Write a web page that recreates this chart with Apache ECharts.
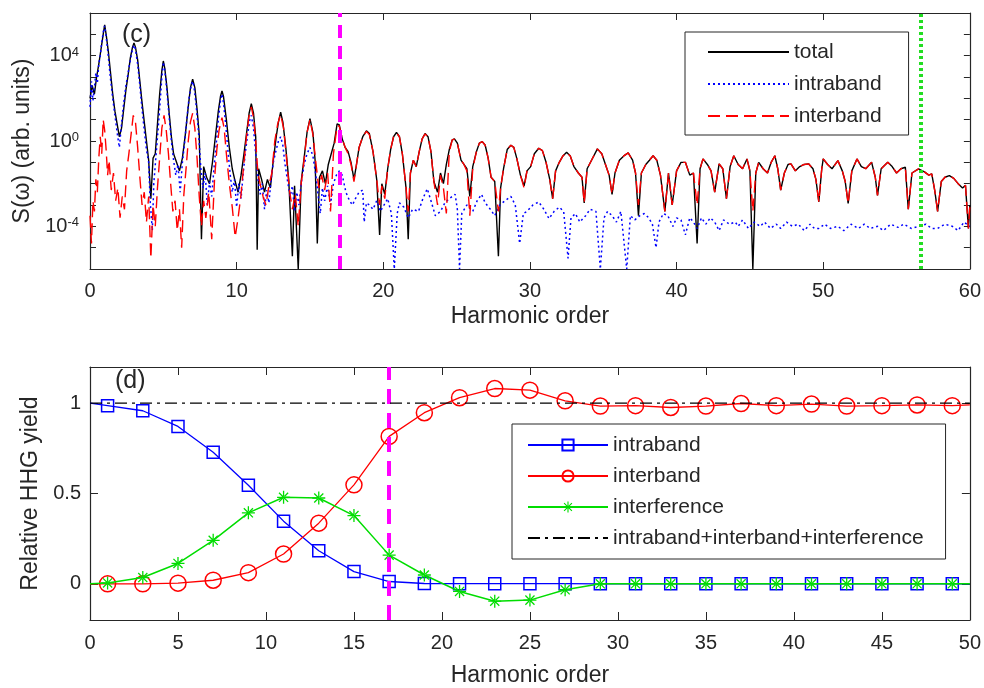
<!DOCTYPE html>
<html>
<head>
<meta charset="utf-8">
<script src="https://cdn.jsdelivr.net/npm/echarts@6/dist/echarts.min.js"></script>
<style>html,body{margin:0;padding:0;background:#fff;}#c{width:984px;height:688px;}</style>
</head>
<body>
<div id="c"></div>
<script>
// ---------- Panel (c): spectrum, values are log10 S(omega) ----------
const topTicksX = [0, 10, 20, 30, 40, 50, 60];
const topLabelExps = [-4, 0, 4];

const totalSpec = [
[0.0,2.0],[0.15,2.6],[0.3,2.2],[0.45,3.0],[0.6,3.6],[0.75,4.3],[0.9,5.0],[1.0,5.45],[1.1,5.0],[1.25,4.2],[1.4,3.2],[1.55,2.2],[1.7,1.4],[1.85,0.8],[2.0,0.2],[2.15,0.6],[2.3,1.5],[2.45,2.4],[2.6,3.1],[2.75,3.9],[2.9,4.4],[3.0,4.6],[3.1,4.4],[3.25,3.8],[3.4,2.8],[3.55,1.8],[3.7,0.9],[3.85,0.0],[4.0,-0.9],[4.15,-2.7],[4.3,-0.8],[4.45,-0.6],[4.6,0.8],[4.75,2.2],[4.9,3.3],[5.0,3.75],[5.1,3.4],[5.25,2.5],[5.4,1.3],[5.55,0.2],[5.7,-0.6],[5.9,-1.0],[6.1,-1.4],[6.3,-0.8],[6.5,0.3],[6.7,1.6],[6.85,2.5],[7.0,2.9],[7.15,2.5],[7.3,1.5],[7.45,0.3],[7.6,-4.6],[7.75,-1.2],[7.95,-1.7],[8.15,-2.0],[8.35,-1.0],[8.55,0.2],[8.75,1.4],[8.9,2.1],[9.0,2.35],[9.1,2.1],[9.3,1.0],[9.5,-0.3],[9.7,-1.3],[9.9,-1.9],[10.1,-2.4],[10.3,-1.6],[10.5,-0.6],[10.7,0.5],[10.85,1.3],[11.0,1.75],[11.15,1.3],[11.3,0.2],[11.4,-5.1],[11.5,-1.3],[11.7,-1.8],[11.9,-2.4],[12.1,-1.8],[12.3,-2.2],[12.5,-0.9],[12.7,0.2],[12.85,0.9],[13.0,1.35],[13.15,0.9],[13.35,-0.3],[13.55,-1.8],[13.8,-5.4],[13.95,-2.1],[14.2,-6.0],[14.4,-1.9],[14.6,-0.8],[14.8,0.4],[15.0,1.05],[15.2,0.4],[15.35,-0.9],[15.5,-4.8],[15.65,-1.7],[15.85,-1.4],[16.05,-2.0],[16.25,-1.1],[16.45,-0.6],[16.65,-0.1],[16.85,0.8],[17.0,0.75],[17.2,0.1],[17.4,-0.3],[17.6,-0.5],[17.8,-1.0],[18.0,-1.8],[18.15,-1.2],[18.35,-0.3],[18.6,0.2],[18.85,0.48],[19.05,0.35],[19.3,-0.5],[19.55,-1.8],[19.75,-4.4],[19.9,-2.0],[20.1,-2.5],[20.3,-1.3],[20.5,-0.4],[20.7,0.2],[20.9,0.4],[21.1,0.2],[21.3,-0.6],[21.55,-2.2],[21.7,-4.6],[21.85,-1.5],[22.05,-0.9],[22.25,-1.2],[22.45,-0.5],[22.65,0.1],[22.85,0.35],[23.05,0.2],[23.25,-0.5],[23.45,-1.9],[23.7,-2.4],[23.9,-1.5],[24.1,-2.0],[24.3,-1.1],[24.5,-0.4],[24.7,0.05],[24.85,0.1],[25.05,-0.1],[25.3,-0.9],[25.5,-1.1],[25.7,-1.3],[25.9,-2.6],[26.1,-1.2],[26.35,-0.5],[26.55,-0.1],[26.75,-0.03],[26.95,-0.2],[27.15,-0.8],[27.35,-1.7],[27.6,-1.9],[27.85,-5.4],[28.0,-2.2],[28.2,-1.3],[28.45,-0.4],[28.7,-0.2],[28.9,-0.3],[29.1,-0.8],[29.35,-1.6],[29.6,-2.1],[29.8,-1.4],[30.05,-1.2],[30.3,-0.6],[30.6,-0.34],[30.85,-0.45],[31.1,-1.0],[31.35,-1.8],[31.55,-2.7],[31.75,-1.4],[32.0,-1.0],[32.25,-0.7],[32.5,-0.53],[32.75,-0.7],[33.0,-1.2],[33.3,-1.5],[33.55,-1.7],[33.7,-2.9],[33.9,-1.3],[34.2,-0.9],[34.6,-0.37],[34.9,-0.6],[35.15,-1.1],[35.4,-1.6],[35.6,-2.5],[35.8,-1.5],[36.1,-0.9],[36.4,-0.7],[36.7,-0.56],[37.0,-0.9],[37.2,-1.5],[37.4,-3.5],[37.6,-1.5],[37.9,-1.1],[38.15,-0.9],[38.4,-0.69],[38.65,-0.9],[38.9,-1.6],[39.2,-3.3],[39.45,-1.5],[39.7,-3.0],[40.0,-1.4],[40.3,-1.0],[40.6,-1.0],[40.9,-1.6],[41.15,-1.5],[41.4,-4.8],[41.6,-1.3],[41.8,-0.84],[42.1,-1.1],[42.35,-1.4],[42.6,-2.4],[42.9,-1.07],[43.15,-1.3],[43.4,-2.7],[43.65,-1.2],[43.9,-0.69],[44.2,-1.1],[44.5,-1.3],[44.8,-0.84],[45.0,-1.4],[45.2,-6.0],[45.4,-1.5],[45.6,-1.0],[45.9,-1.3],[46.2,-1.5],[46.45,-1.0],[46.7,-0.69],[46.9,-1.3],[47.1,-2.3],[47.35,-1.5],[47.6,-1.1],[47.8,-1.07],[48.1,-1.4],[48.4,-1.2],[48.7,-1.1],[49.0,-1.07],[49.3,-1.3],[49.5,-1.8],[49.7,-2.85],[49.9,-1.3],[50.0,-0.84],[50.3,-1.1],[50.6,-1.3],[51.0,-0.92],[51.3,-1.4],[51.5,-1.9],[51.7,-2.93],[51.95,-1.4],[52.3,-0.84],[52.6,-1.2],[52.9,-1.3],[53.3,-1.0],[53.55,-1.7],[53.7,-2.55],[53.95,-1.3],[54.4,-1.0],[54.7,-1.2],[55.0,-1.5],[55.3,-1.3],[55.6,-1.23],[55.8,-3.2],[56.05,-1.5],[56.5,-1.31],[56.9,-1.45],[57.2,-1.6],[57.4,-1.54],[57.6,-2.3],[57.8,-3.3],[58.05,-1.9],[58.3,-1.7],[58.6,-1.62],[58.9,-1.75],[59.2,-2.0],[59.5,-2.2],[59.7,-2.08],[59.9,-4.1],[60.0,-3.0]
];

const intraSpec = [
[0.0,1.6],[0.1,2.8],[0.2,1.9],[0.3,2.5],[0.4,3.2],[0.5,2.7],[0.6,3.6],[0.7,4.0],[0.8,4.6],[0.9,5.1],[1.0,5.4],[1.1,4.9],[1.2,4.3],[1.3,3.6],[1.4,2.9],[1.55,2.0],[1.7,1.2],[1.85,0.4],[2.0,-0.3],[2.15,0.8],[2.3,1.8],[2.45,2.6],[2.6,3.2],[2.75,3.8],[2.9,4.3],[3.0,4.5],[3.1,4.3],[3.25,3.6],[3.4,2.6],[3.55,1.5],[3.7,0.5],[3.85,-0.4],[4.0,-1.0],[4.1,-2.8],[4.25,-4.2],[4.35,-2.0],[4.5,-0.7],[4.65,0.6],[4.8,2.0],[4.9,3.0],[5.0,3.7],[5.1,3.3],[5.25,2.3],[5.4,1.1],[5.55,0.0],[5.7,-0.9],[5.85,-1.6],[6.0,-1.1],[6.15,-2.4],[6.3,-1.0],[6.45,-0.1],[6.6,1.0],[6.75,2.0],[6.9,2.6],[7.0,2.8],[7.1,2.5],[7.25,1.6],[7.4,0.4],[7.55,-1.2],[7.7,-2.2],[7.85,-1.5],[8.0,-3.0],[8.15,-1.9],[8.3,-2.6],[8.45,-1.3],[8.6,-0.2],[8.75,1.0],[8.9,1.9],[9.0,2.2],[9.1,1.8],[9.25,0.8],[9.4,-0.4],[9.55,-1.5],[9.7,-2.4],[9.85,-1.8],[10.0,-3.1],[10.15,-2.0],[10.3,-2.7],[10.45,-1.5],[10.6,-0.5],[10.75,0.3],[10.9,1.0],[11.0,1.2],[11.15,0.6],[11.3,-0.6],[11.45,-1.8],[11.6,-2.5],[11.75,-2.0],[11.9,-3.2],[12.05,-2.3],[12.2,-2.9],[12.35,-1.8],[12.5,-1.0],[12.7,-0.4],[12.85,0.0],[13.0,0.2],[13.15,-0.2],[13.3,-1.1],[13.5,-2.0],[13.65,-2.6],[13.8,-2.1],[13.95,-3.3],[14.1,-2.4],[14.25,-3.0],[14.4,-2.0],[14.6,-1.1],[14.8,-0.6],[15.0,-0.3],[15.2,-0.7],[15.4,-1.6],[15.55,-2.5],[15.7,-3.4],[15.85,-2.2],[16.0,-2.8],[16.2,-2.1],[16.4,-3.0],[16.6,-2.0],[16.8,-1.6],[17.0,-1.4],[17.2,-1.6],[17.45,-2.4],[17.7,-2.8],[17.9,-3.0],[18.1,-2.7],[18.35,-2.4],[18.6,-2.3],[18.7,-3.8],[18.85,-2.9],[19.05,-3.0],[19.3,-3.2],[19.55,-2.8],[19.8,-3.3],[20.05,-3.0],[20.3,-2.7],[20.55,-3.4],[20.75,-6.0],[20.95,-3.4],[21.1,-2.9],[21.4,-3.1],[21.7,-3.6],[22.0,-3.2],[22.4,-3.3],[22.7,-2.7],[23.0,-2.24],[23.25,-2.8],[23.55,-3.5],[23.9,-3.3],[24.2,-2.9],[24.5,-2.7],[24.9,-2.5],[25.05,-3.2],[25.2,-6.0],[25.35,-3.4],[25.7,-3.0],[26.1,-3.3],[26.4,-2.8],[26.7,-2.5],[26.95,-2.9],[27.3,-3.2],[27.6,-3.5],[27.95,-3.0],[28.3,-2.8],[28.7,-2.6],[29.0,-3.0],[29.3,-4.8],[29.55,-3.4],[29.8,-3.3],[30.2,-3.0],[30.6,-2.86],[30.95,-3.2],[31.3,-3.64],[31.65,-3.3],[32.0,-3.1],[32.3,-3.3],[32.6,-5.5],[32.8,-3.6],[33.1,-3.4],[33.4,-3.8],[33.8,-3.5],[34.1,-3.2],[34.5,-3.3],[34.8,-6.0],[35.05,-3.6],[35.3,-3.3],[35.6,-3.5],[35.9,-3.8],[36.2,-3.3],[36.6,-6.0],[36.85,-3.5],[37.15,-3.7],[37.5,-3.5],[37.8,-3.4],[38.1,-3.6],[38.35,-3.9],[38.6,-5.0],[38.8,-3.8],[39.1,-3.4],[39.4,-3.5],[39.75,-4.0],[40.0,-3.6],[40.3,-3.7],[40.6,-4.4],[40.9,-3.6],[41.15,-3.8],[41.4,-4.1],[41.7,-3.6],[42.0,-3.9],[42.3,-3.6],[42.6,-3.8],[42.9,-4.2],[43.2,-3.7],[43.6,-3.9],[44.0,-3.8],[44.2,-4.0],[44.5,-3.7],[44.9,-4.1],[45.3,-3.8],[45.7,-4.0],[46.0,-3.8],[46.4,-4.1],[46.8,-3.9],[47.1,-4.1],[47.5,-3.8],[47.9,-4.0],[48.3,-3.9],[48.7,-4.2],[49.1,-3.9],[49.4,-4.1],[49.7,-4.1],[50.1,-3.9],[50.5,-4.1],[51.0,-4.0],[51.4,-4.2],[51.9,-3.9],[52.4,-4.1],[52.8,-3.9],[53.2,-4.1],[53.7,-4.0],[54.1,-4.2],[54.6,-3.9],[55.1,-4.05],[55.5,-3.9],[56.0,-4.1],[56.5,-4.0],[57.0,-3.9],[57.4,-4.1],[57.8,-4.1],[58.3,-3.9],[58.8,-4.0],[59.2,-4.2],[59.6,-3.8],[60.0,-4.0]
];

const interSpec = [
[0.0,-3.5],[0.1,-4.8],[0.2,-2.8],[0.3,-3.3],[0.4,-1.8],[0.5,-2.4],[0.6,-0.8],[0.7,0.2],[0.8,-0.6],[0.9,1.0],[1.0,0.5],[1.1,-0.4],[1.2,-1.6],[1.3,-0.9],[1.45,-2.3],[1.6,-1.5],[1.75,-2.8],[1.9,-2.2],[2.05,-3.6],[2.2,-2.6],[2.35,-3.2],[2.5,-1.4],[2.65,-0.6],[2.8,0.3],[2.95,1.2],[3.1,0.9],[3.25,-0.3],[3.4,-1.7],[3.55,-3.0],[3.7,-2.4],[3.85,-3.8],[4.0,-2.6],[4.15,-5.5],[4.3,-3.0],[4.45,-4.0],[4.6,-2.2],[4.75,-0.8],[4.9,0.6],[5.05,1.2],[5.2,0.5],[5.35,-0.6],[5.5,-2.0],[5.65,-3.3],[5.8,-2.8],[5.95,-4.2],[6.1,-3.2],[6.25,-5.0],[6.4,-2.5],[6.55,-1.3],[6.7,0.0],[6.85,0.9],[7.0,1.3],[7.15,0.6],[7.3,-0.8],[7.45,-2.6],[7.6,-4.0],[7.75,-2.8],[7.9,-3.6],[8.1,-2.4],[8.3,-4.6],[8.5,-1.7],[8.65,-0.4],[8.8,0.5],[9.0,1.1],[9.15,0.6],[9.3,-0.6],[9.5,-2.0],[9.7,-3.1],[9.9,-4.5],[10.1,-3.6],[10.3,-2.5],[10.5,-1.0],[10.7,0.4],[10.85,1.2],[11.0,1.6],[11.15,1.1],[11.3,0.0],[11.45,-1.5],[11.6,-2.0],[11.8,-2.6],[12.0,-3.0],[12.2,-2.1],[12.4,-1.5],[12.6,0.0],[12.8,0.8],[13.0,1.25],[13.2,0.6],[13.4,-0.8],[13.6,-2.3],[13.8,-3.2],[14.0,-2.5],[14.2,-4.0],[14.4,-2.0],[14.6,-0.9],[14.8,0.4],[15.0,1.0],[15.2,0.3],[15.4,-1.0],[15.6,-2.2],[15.8,-1.6],[16.0,-2.3],[16.2,-1.5],[16.4,-3.3],[16.6,-0.6],[16.85,0.7],[17.0,0.7],[17.2,0.1],[17.4,-0.3],[17.6,-0.6],[17.8,-1.1],[18.0,-1.9],[18.15,-1.2],[18.35,-0.3],[18.6,0.2],[18.85,0.45],[19.05,0.3],[19.3,-0.5],[19.55,-1.8],[19.75,-3.0],[19.9,-2.1],[20.1,-2.7],[20.3,-1.3],[20.5,-0.4],[20.7,0.2],[20.9,0.38],[21.1,0.2],[21.3,-0.6],[21.55,-2.2],[21.7,-3.3],[21.85,-1.5],[22.05,-0.9],[22.25,-1.2],[22.45,-0.5],[22.65,0.1],[22.85,0.33],[23.05,0.2],[23.25,-0.5],[23.45,-1.9],[23.7,-3.0],[23.9,-1.6],[24.1,-2.2],[24.3,-3.4],[24.5,-0.5],[24.7,0.05],[24.85,0.09],[25.05,-0.1],[25.3,-0.9],[25.5,-1.1],[25.7,-1.4],[25.9,-3.5],[26.1,-1.3],[26.35,-0.5],[26.55,-0.1],[26.75,-0.03],[26.95,-0.2],[27.15,-0.8],[27.35,-1.7],[27.6,-1.9],[27.85,-3.3],[28.0,-2.2],[28.2,-1.3],[28.45,-0.4],[28.7,-0.2],[28.9,-0.3],[29.1,-0.8],[29.35,-1.6],[29.6,-2.2],[29.8,-1.4],[30.05,-1.2],[30.3,-0.6],[30.6,-0.34],[30.85,-0.45],[31.1,-1.0],[31.35,-1.8],[31.55,-2.7],[31.75,-1.4],[32.0,-1.0],[32.25,-0.7],[32.5,-0.53],[32.75,-0.7],[33.0,-1.2],[33.3,-1.5],[33.55,-1.7],[33.7,-2.9],[33.9,-1.3],[34.2,-0.9],[34.6,-0.37],[34.9,-0.6],[35.15,-1.1],[35.4,-1.6],[35.6,-2.5],[35.8,-1.5],[36.1,-0.9],[36.4,-0.7],[36.7,-0.56],[37.0,-0.9],[37.2,-1.5],[37.4,-3.0],[37.6,-1.5],[37.9,-1.1],[38.15,-0.9],[38.4,-0.69],[38.65,-0.9],[38.9,-1.6],[39.2,-3.3],[39.45,-1.5],[39.7,-3.0],[40.0,-1.4],[40.3,-1.0],[40.6,-1.0],[40.9,-1.6],[41.15,-1.5],[41.4,-3.0],[41.6,-1.3],[41.8,-0.84],[42.1,-1.1],[42.35,-1.4],[42.6,-2.4],[42.9,-1.07],[43.15,-1.3],[43.4,-2.7],[43.65,-1.2],[43.9,-0.69],[44.2,-1.1],[44.5,-1.3],[44.8,-0.84],[45.0,-1.4],[45.2,-3.3],[45.4,-1.5],[45.6,-1.0],[45.9,-1.3],[46.2,-1.5],[46.45,-1.0],[46.7,-0.69],[46.9,-1.3],[47.1,-2.3],[47.35,-1.5],[47.6,-1.1],[47.8,-1.07],[48.1,-1.4],[48.4,-1.2],[48.7,-1.1],[49.0,-1.07],[49.3,-1.3],[49.5,-1.8],[49.7,-2.85],[49.9,-1.3],[50.0,-0.84],[50.3,-1.1],[50.6,-1.3],[51.0,-0.92],[51.3,-1.4],[51.5,-1.9],[51.7,-2.93],[51.95,-1.4],[52.3,-0.84],[52.6,-1.2],[52.9,-1.3],[53.3,-1.0],[53.55,-1.7],[53.7,-2.55],[53.95,-1.3],[54.4,-1.0],[54.7,-1.2],[55.0,-1.5],[55.3,-1.3],[55.6,-1.23],[55.8,-3.2],[56.05,-1.5],[56.5,-1.31],[56.9,-1.45],[57.2,-1.6],[57.4,-1.54],[57.6,-2.3],[57.8,-3.3],[58.05,-1.9],[58.3,-1.7],[58.6,-1.62],[58.9,-1.75],[59.2,-2.0],[59.5,-2.2],[59.7,-2.08],[59.9,-4.1],[60.0,-3.0]
];

const magentaOrder = 17;
const greenOrder = 56.65;

// ---------- Panel (d): relative HHG yield ----------
const harmonics   = [0, 1, 3, 5, 7, 9, 11, 13, 15, 17, 19, 21, 23, 25, 27, 29, 31, 33, 35, 37, 39, 41, 43, 45, 47, 49, 50];
const yIntraband  = [1.0, 0.986, 0.958, 0.871, 0.728, 0.546, 0.347, 0.183, 0.068, 0.013, 0.002, 0.001, 0.001, 0.001, 0.001, 0, 0, 0, 0, 0, 0, 0, 0, 0, 0, 0, 0];
const yInterband  = [0, 0.0, 0.0, 0.004, 0.02, 0.062, 0.165, 0.336, 0.548, 0.816, 0.947, 1.03, 1.081, 1.072, 1.013, 0.984, 0.986, 0.976, 0.984, 0.998, 0.986, 0.995, 0.984, 0.986, 0.99, 0.986, 0.99];
const yInterfere  = [0, 0.005, 0.035, 0.113, 0.241, 0.393, 0.479, 0.475, 0.378, 0.159, 0.049, -0.042, -0.096, -0.09, -0.033, 0, 0, 0, 0, 0, 0, 0, 0, 0, 0, 0, 0];
const ySum        = [1, 1, 1, 1, 1, 1, 1, 1, 1, 1, 1, 1, 1, 1, 1, 1, 1, 1, 1, 1, 1, 1, 1, 1, 1, 1, 1];
const bottomTicksY = [0, 0.5, 1];

const FONT = 'Liberation Sans, Arial, Helvetica, sans-serif';
const AX = '#262626';

const chart = echarts.init(document.getElementById('c'), null, {renderer: 'canvas'});

function pairs(xs, ys) {
  return xs.map((x, i) => {
    const item = {value: [x, ys[i]]};
    if (x === 0 || x === 50) item.symbol = 'none';
    return item;
  });
}

const axisLineStyle = {show: true, onZero: false, lineStyle: {color: AX, width: 1.2}};
const star = 'path://M-1,-10L1,-10L1,10L-1,10Z M-10,-1L10,-1L10,1L-10,1Z M-6.3,-7.7L7.7,6.3L6.3,7.7L-7.7,-6.3Z M-6.3,7.7L7.7,-6.3L6.3,-7.7L-7.7,6.3Z';

const option = {
  animation: false,
  backgroundColor: '#fff',
  textStyle: {fontFamily: FONT},
  grid: [
    {left: 90, width: 883, top: 13, height: 256},
    {left: 90, width: 883, top: 367, height: 256}
  ],
  xAxis: [
    {gridIndex: 0, type: 'value', min: 0, max: 60, interval: 10, position: 'bottom',
     axisLine: axisLineStyle, axisTick: {inside: true, length: 7, lineStyle: {color: AX}},
     axisLabel: {fontSize: 20, color: AX, margin: 12, fontFamily: FONT},
     splitLine: {show: false},
     name: 'Harmonic order', nameLocation: 'middle', nameGap: 36,
     nameTextStyle: {fontSize: 23, color: AX, fontFamily: FONT}},
    {gridIndex: 0, type: 'value', min: 0, max: 60, interval: 10, position: 'top',
     axisLine: axisLineStyle, axisTick: {inside: true, length: 7, lineStyle: {color: AX}},
     axisLabel: {show: false}, splitLine: {show: false}},
    {gridIndex: 1, type: 'value', min: 0, max: 50, interval: 5, position: 'bottom',
     axisLine: axisLineStyle, axisTick: {inside: true, length: 8, lineStyle: {color: AX}},
     axisLabel: {fontSize: 20, color: AX, margin: 13, fontFamily: FONT},
     splitLine: {show: false},
     name: 'Harmonic order', nameLocation: 'middle', nameGap: 44,
     nameTextStyle: {fontSize: 23, color: AX, fontFamily: FONT}},
    {gridIndex: 1, type: 'value', min: 0, max: 50, interval: 5, position: 'top',
     axisLine: axisLineStyle, axisTick: {inside: true, length: 8, lineStyle: {color: AX}},
     axisLabel: {show: false}, splitLine: {show: false}}
  ],
  yAxis: [
    {gridIndex: 0, type: 'value', min: -6, max: 6, interval: 1, position: 'left',
     axisLine: axisLineStyle, axisTick: {inside: true, length: 6, lineStyle: {color: AX}},
     splitLine: {show: false},
     axisLabel: {
       margin: 11,
       formatter: function (v) {
         const e = Math.round(v);
         return topLabelExps.indexOf(e) >= 0 ? '{b|10}{s|' + e + '}' : '';
       },
       rich: {
         b: {fontSize: 20, color: AX, fontFamily: FONT, lineHeight: 20, verticalAlign: 'bottom'},
         s: {fontSize: 13, color: AX, fontFamily: FONT, lineHeight: 13, verticalAlign: 'top', padding: [0, 0, 9, 0]}
       }
     },
     name: 'S(\u03c9) (arb. units)', nameLocation: 'middle', nameGap: 54, nameRotate: 90,
     nameTextStyle: {fontSize: 23, color: AX, fontFamily: FONT}},
    {gridIndex: 0, type: 'value', min: -6, max: 6, interval: 1, position: 'right',
     axisLine: axisLineStyle, axisTick: {inside: true, length: 6, lineStyle: {color: AX}},
     axisLabel: {show: false}, splitLine: {show: false}},
    {gridIndex: 1, type: 'value', min: -0.2, max: 1.2, position: 'left',
     axisLine: axisLineStyle,
     axisTick: {inside: true, length: 8, lineStyle: {color: AX}, customValues: bottomTicksY},
     axisLabel: {fontSize: 20, color: AX, margin: 9, fontFamily: FONT, customValues: bottomTicksY},
     splitLine: {show: false},
     name: 'Relative HHG yield', nameLocation: 'middle', nameGap: 41, nameRotate: 90,
     nameTextStyle: {fontSize: 23, color: AX, fontFamily: FONT}},
    {gridIndex: 1, type: 'value', min: -0.2, max: 1.2, position: 'right',
     axisLine: axisLineStyle,
     axisTick: {inside: true, length: 8, lineStyle: {color: AX}, customValues: bottomTicksY},
     axisLabel: {show: false}, splitLine: {show: false}}
  ],
  legend: [
    {data: ['total', 'intraband', 'interband'], orient: 'vertical', left: 685, top: 32,
     itemWidth: 81, itemHeight: 14, itemGap: 8, padding: [8, 27, 7, 22],
     borderColor: AX, borderWidth: 1, backgroundColor: '#fff', selectedMode: false,
     itemStyle: {opacity: 0},
     textStyle: {fontSize: 21, color: AX, fontFamily: FONT, lineHeight: 24}},
    {data: ['intraband ', 'interband ', 'interference',
            {name: 'intraband+interband+interference', itemStyle: {opacity: 0}}],
     orient: 'vertical', left: 512, top: 424,
     itemWidth: 80, itemHeight: 14, itemGap: 7, padding: [9, 22, 9, 15],
     borderColor: AX, borderWidth: 1, backgroundColor: '#fff', selectedMode: false,
     formatter: n => n.trim(),
     textStyle: {fontSize: 21, color: AX, fontFamily: FONT, lineHeight: 24}}
  ],
  graphic: [
    {type: 'text', left: 122, top: 23, style: {text: '(c)', fontSize: 25, fill: AX, fontFamily: FONT}},
    {type: 'text', left: 115, top: 369, style: {text: '(d)', fontSize: 25, fill: AX, fontFamily: FONT}}
  ],
  series: [
    {name: 'total', type: 'line', xAxisIndex: 0, yAxisIndex: 0, symbol: 'none', z: 2,
     lineStyle: {color: '#000000', width: 1.4}, itemStyle: {color: '#000000'},
     data: totalSpec},
    {name: 'intraband', type: 'line', xAxisIndex: 0, yAxisIndex: 0, symbol: 'none', z: 3,
     lineStyle: {color: '#0000ff', width: 1.5, type: [2, 3]}, itemStyle: {color: '#0000ff'},
     data: intraSpec},
    {name: 'interband', type: 'line', xAxisIndex: 0, yAxisIndex: 0, symbol: 'none', z: 4,
     lineStyle: {color: '#ff0000', width: 1.4, type: [12, 6]}, itemStyle: {color: '#ff0000'},
     data: interSpec,
     markLine: {silent: true, symbol: 'none', label: {show: false},
       data: [
         {xAxis: magentaOrder, lineStyle: {color: '#ff00ff', width: 4, type: [13, 8]}},
         {xAxis: greenOrder, lineStyle: {color: '#22dd22', width: 4, type: [3, 3]}}
       ]}},

    {name: 'intraband ', type: 'line', xAxisIndex: 2, yAxisIndex: 2, z: 2,
     symbol: 'rect', symbolSize: 12, showAllSymbol: true,
     lineStyle: {color: '#0000ff', width: 1.3},
     itemStyle: {color: 'rgba(255,255,255,0)', borderColor: '#0000ff', borderWidth: 1.5},
     data: pairs(harmonics, yIntraband)},
    {name: 'interband ', type: 'line', xAxisIndex: 2, yAxisIndex: 2, z: 3,
     symbol: 'circle', symbolSize: 16, showAllSymbol: true,
     lineStyle: {color: '#ff0000', width: 1.3},
     itemStyle: {color: 'rgba(255,255,255,0)', borderColor: '#ff0000', borderWidth: 1.5},
     data: pairs(harmonics, yInterband)},
    {name: 'interference', type: 'line', xAxisIndex: 2, yAxisIndex: 2, z: 4,
     symbol: star, symbolSize: 13, showAllSymbol: true,
     lineStyle: {color: '#00dd00', width: 1.5},
     itemStyle: {color: '#00dd00'},
     data: pairs(harmonics, yInterfere)},
    {name: 'intraband+interband+interference', type: 'line', xAxisIndex: 2, yAxisIndex: 2, z: 5,
     symbol: 'none',
     lineStyle: {color: '#000000', width: 1.4, type: [12, 5, 3, 5]},
     itemStyle: {color: '#000000'},
     data: harmonics.map((h, i) => [h, ySum[i]]),
     markLine: {silent: true, symbol: 'none', label: {show: false},
       data: [{xAxis: magentaOrder, lineStyle: {color: '#ff00ff', width: 4, type: [15, 9]}}]}}
  ]
};
chart.setOption(option);
</script>
</body>
</html>
